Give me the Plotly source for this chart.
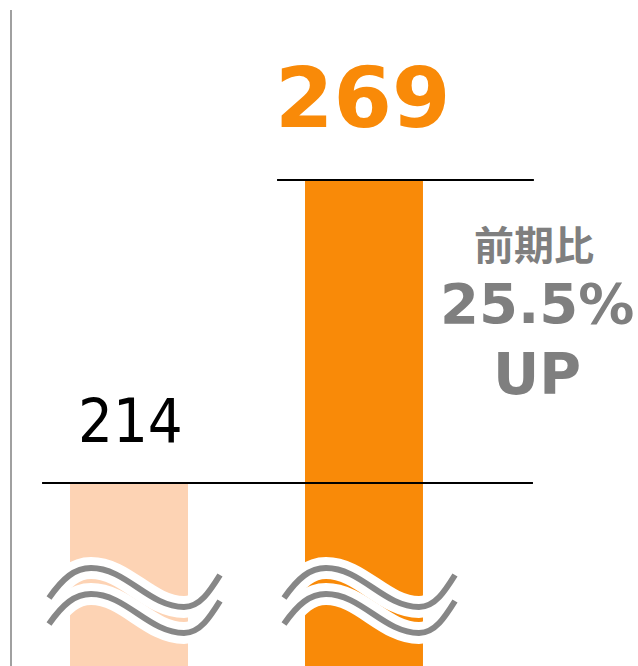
import plotly.graph_objects as go

# ---- data ----
categories = ["前期", "当期"]
values = [214, 269]
bar_colors = ["#FDD3B4", "#F98A08"]
change_label = ["前期比", "25.5%", "UP"]

# ---- layout geometry ----
W, H = 638, 666
ML, MR, MT, MB = 12, 0, 10, 0
x_range = [-0.4979, 2.166]
y_range = [180.78, 299.86]

plot_w = W - ML - MR
plot_h = H - MT - MB
px_per_x = plot_w / (x_range[1] - x_range[0])
px_per_y = plot_h / (y_range[1] - y_range[0])


def dpx2dx(dpx):
    return dpx / px_per_x


def py2y(py):
    return y_range[1] - (py - MT) / px_per_y


xs = list(range(len(categories)))

fig = go.Figure()
fig.add_trace(go.Bar(
    x=xs, y=values, marker=dict(color=bar_colors, line=dict(width=0)),
    width=0.502, hoverinfo="skip", showlegend=False,
))

shapes = []
# horizontal reference lines at bar tops
line_spans = [(-0.37, 1.719), (0.630, 1.723)]
for (x0, x1), v in zip(line_spans, values):
    shapes.append(dict(type="line", xref="x", yref="y", x0=x0, x1=x1, y0=v, y1=v,
                       line=dict(color="black", width=1.8), layer="above"))

# wave (axis break) marks, pixel offsets relative to each bar centre
wave_pts = [(-80, 598), (-66, 578), (-54, 568), (-38, 568),
            (-3, 568), (20, 607), (55, 607),
            (71, 607), (81, 591), (91, 575)]


def wave_path(xc, dy):
    pts = [(xc + dpx2dx(dx), py2y(py + dy)) for dx, py in wave_pts]
    s = "M %f,%f" % pts[0]
    for k in range(1, len(pts), 3):
        s += " C %f,%f %f,%f %f,%f" % (pts[k] + pts[k + 1] + pts[k + 2])
    return s


for xc in xs:
    for dy in (0, 26):
        shapes.append(dict(type="path", xref="x", yref="y", path=wave_path(xc, dy),
                           line=dict(color="white", width=22), layer="above"))
for xc in xs:
    for dy in (0, 26):
        shapes.append(dict(type="path", xref="x", yref="y", path=wave_path(xc, dy),
                           line=dict(color="#878787", width=6), layer="above"))

grey = "#7F7F7F"
annotations = [
    dict(x=xs[0], y=values[0], xref="x", yref="y", text=str(values[0]), showarrow=False,
         yanchor="middle", xanchor="center", yshift=62, xshift=1,
         font=dict(family="DejaVu Sans Condensed, DejaVu Sans", size=61, color="black")),
    dict(x=xs[1], y=values[1], xref="x", yref="y", text=str(values[1]), showarrow=False,
         yanchor="middle", xanchor="center", yshift=82, xshift=-2,
         font=dict(family="DejaVu Sans", size=84, color=bar_colors[1], weight=700)),
    dict(x=xs[1], y=values[1], xref="x", yref="y", text=change_label[0], showarrow=False,
         yanchor="middle", xanchor="center", yshift=-63, xshift=170,
         font=dict(family="Noto Sans CJK JP", size=40, color=grey, weight=700)),
    dict(x=xs[1], y=values[1], xref="x", yref="y", text=change_label[1], showarrow=False,
         yanchor="middle", xanchor="center", yshift=-123.5, xshift=173,
         font=dict(family="DejaVu Sans", size=56, color=grey, weight=700)),
    dict(x=xs[1], y=values[1], xref="x", yref="y", text=change_label[2], showarrow=False,
         yanchor="middle", xanchor="center", yshift=-193.5, xshift=173,
         font=dict(family="DejaVu Sans", size=57, color=grey, weight=700)),
]

fig.update_layout(
    width=W, height=H, autosize=False,
    margin=dict(l=ML, r=MR, t=MT, b=MB, pad=0),
    paper_bgcolor="white", plot_bgcolor="white",
    xaxis=dict(range=x_range, visible=False, fixedrange=True),
    yaxis=dict(range=y_range, showline=True, linecolor="#A0A0A0", linewidth=2,
               showticklabels=False, showgrid=False, zeroline=False, ticks="",
               fixedrange=True),
    shapes=shapes, annotations=annotations, showlegend=False,
)

fig.write_html(
    "out.html",
    config={"displayModeBar": False},
    post_script="document.body.style.margin='0';document.body.style.overflow='hidden';",
)
